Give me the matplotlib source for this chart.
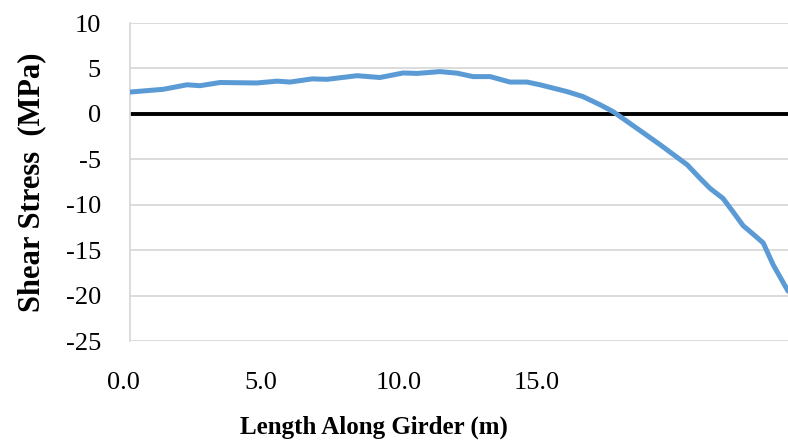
import matplotlib.pyplot as plt
from matplotlib.transforms import ScaledTranslation

# Shear stress along the girder
length_m = [0.0, 1.2, 2.07, 2.54, 3.27, 4.61, 5.34, 5.81, 6.61, 7.15, 8.24, 9.07,
            9.91, 10.42, 11.25, 11.87, 12.45, 13.07, 13.79, 14.41, 14.88, 15.86,
            16.44, 17.06, 17.53, 18.26, 19.24, 20.22, 20.69, 21.05, 21.52, 21.89,
            22.25, 22.6, 22.98, 23.34, 23.88]
shear_mpa = [2.4, 2.7, 3.2, 3.1, 3.45, 3.4, 3.6, 3.5, 3.85, 3.8, 4.2, 4.0,
             4.5, 4.45, 4.65, 4.48, 4.1, 4.1, 3.5, 3.5, 3.2, 2.45,
             1.9, 1.0, 0.25, -1.3, -3.4, -5.6, -7.1, -8.2, -9.3, -10.8,
             -12.3, -13.2, -14.2, -16.6, -19.5]
x_ticks = [0, 5, 10, 15]
x_tick_labels = ['0.0', '5.0', '10.0', '15.0']
y_ticks = [-25, -20, -15, -10, -5, 0, 5, 10]

plt.rcParams['font.family'] = ['Liberation Serif', 'DejaVu Serif']
plt.rcParams['axes.unicode_minus'] = False

fig = plt.figure(figsize=(7.88, 4.46), dpi=100)
ax = fig.add_axes([130 / 788, 1 - 341 / 446, 658 / 788, 318 / 446])

grid_color = '#d9d9d9'
for y in y_ticks:
    if y != 0:
        ax.axhline(y, color=grid_color, lw=1.3, zorder=1)
ax.axhline(0, color='black', lw=2.8, zorder=2)
ax.plot(length_m, shear_mpa, color='#5b9bd5', lw=3.6, solid_joinstyle='round',
        solid_capstyle='round', zorder=3)

ax.set_xlim(0, 23.88)
ax.set_ylim(-25, 10)
ax.set_xticks(x_ticks)
ax.set_xticklabels(x_tick_labels)
ax.set_yticks(y_ticks)

for side in ['top', 'right', 'bottom']:
    ax.spines[side].set_visible(False)
ax.spines['left'].set_color(grid_color)
ax.spines['left'].set_linewidth(1.3)

ax.tick_params(axis='both', length=0, labelsize=19)
ax.tick_params(axis='y', pad=21)
ax.tick_params(axis='x', pad=22)
# labels in the reference sit a few pixels left of their ticks
shift = ScaledTranslation(-7 / 100, 0, fig.dpi_scale_trans)
for lbl in ax.get_xticklabels():
    lbl.set_transform(lbl.get_transform() + shift)

ax.set_xlabel('Length Along Girder (m)', fontsize=18, fontweight='bold')
ax.xaxis.set_label_coords(0.371, -0.235)
ax.set_ylabel('Shear Stress  (MPa)', fontsize=22, fontweight='bold')
ax.yaxis.set_label_coords(-0.128, 0.5)

fig.savefig('out.png', dpi=100)
